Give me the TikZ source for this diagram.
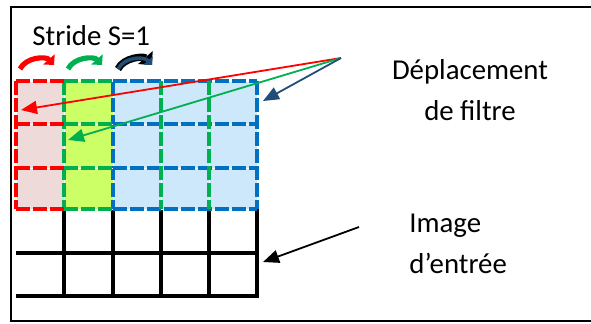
\documentclass[tikz,border=0pt]{standalone}
\usepackage{fontspec}
\setmainfont{Carlito}
\usetikzlibrary{arrows.meta}

\definecolor{filtred}{HTML}{FF0000}
\definecolor{filtgreen}{HTML}{00B050}
\definecolor{filtblue}{HTML}{0070C0}
\definecolor{darkarrow}{HTML}{1F4E79}
\definecolor{pinkfill}{HTML}{EDDAD9}
\definecolor{limefill}{HTML}{CCFF66}
\definecolor{bluefill}{HTML}{CCE8FA}

\tikzset{
  labeltext/.style={inner sep=0pt, font=\fontsize{14.4}{20.4}\selectfont},
  filterline/.style={line width=2pt, dash pattern=on 7pt off 1.5pt,
    preaction={draw=white, solid}},
  gridline/.style={line width=2pt, line cap=rect},
  shiftarrow/.style={line width=2.6pt, -{Triangle[width=7.5pt, length=3.8pt]}},
  pointer/.style={line width=0.9pt, -{Triangle[width=6.5pt, length=8pt]}}
}

\begin{document}
\begin{tikzpicture}[x=0.5pt, y=-0.5pt]
    \useasboundingbox (0,0) rectangle (591,323);

    % Frame
    \draw[line width=1.1pt] (595,7) -- (11,7) -- (11,321) -- (595,321);

    % Cell fills
    \fill[pinkfill] (16,81) rectangle (64,209);
    \fill[limefill] (64,81) rectangle (113,209);
    \fill[bluefill] (113,81) rectangle (257,209);

    % Input image grid
    \foreach \x in {64,113,161,209,257}
        \draw[gridline] (\x,209) -- (\x,296);
    \foreach \y in {253,296}
        \draw[gridline] (18,\y) -- (257,\y);

    % Blue filter
    \foreach \y in {81,124,168,209}
        \draw[filterline, filtblue] (113,\y) -- (257,\y);
    \foreach \x in {113,257}
        \draw[filterline, filtblue] (\x,81) -- (\x,209);

    % Green filter
    \foreach \y in {81,124,168,209}
        \draw[filterline, filtgreen] (64,\y) -- (113,\y);
    \foreach \x in {64,161,209}
        \draw[filterline, filtgreen] (\x,81) -- (\x,209);

    % Red filter
    \foreach \y in {81,124,168,209}
        \draw[filterline, filtred] (16,\y) -- (64,\y);
    \draw[filterline, filtred] (16,81) -- (16,209);

    % Stride arrows
    \draw[shiftarrow, filtred] (20,69) .. controls (26,57) and (46,56) .. (54,65);
    \draw[shiftarrow, filtgreen] (68,69) .. controls (74,57) and (94,56) .. (102,65);
    \draw[shiftarrow, black, line width=3.6pt, -{Triangle[width=9.5pt, length=5pt]}]
        (118,69) .. controls (124,57) and (144,56) .. (152,65);
    \draw[shiftarrow, darkarrow, line width=1.8pt, -{Triangle[width=6pt, length=3pt]}]
        (118,69) .. controls (124,57) and (144,56) .. (152,65);

    % Labels
    \node[labeltext, anchor=base west] (stride) at (32,45) {Stride S=1};
    \node[labeltext, align=center, anchor=base] (deplacement) at (470,120)
        {Déplacement\\de filtre};
    \node[labeltext, align=left, anchor=base west] (image) at (409,273)
        {Image\\d’entrée};

    % Pointers
    \coordinate (src) at (341,58);
    \coordinate (redtip) at (21,110);
    \coordinate (greentip) at (68,140);
    \coordinate (bluetip) at (263,101);
    \coordinate (imgsrc) at (359,227);
    \coordinate (imgtip) at (263,262);
    \draw[pointer, filtred] (src) -- (redtip);
    \draw[pointer, filtgreen] (src) -- (greentip);
    \draw[pointer, darkarrow] (src) -- (bluetip);
    \draw[pointer, black] (imgsrc) -- (imgtip);
\end{tikzpicture}
\end{document}
